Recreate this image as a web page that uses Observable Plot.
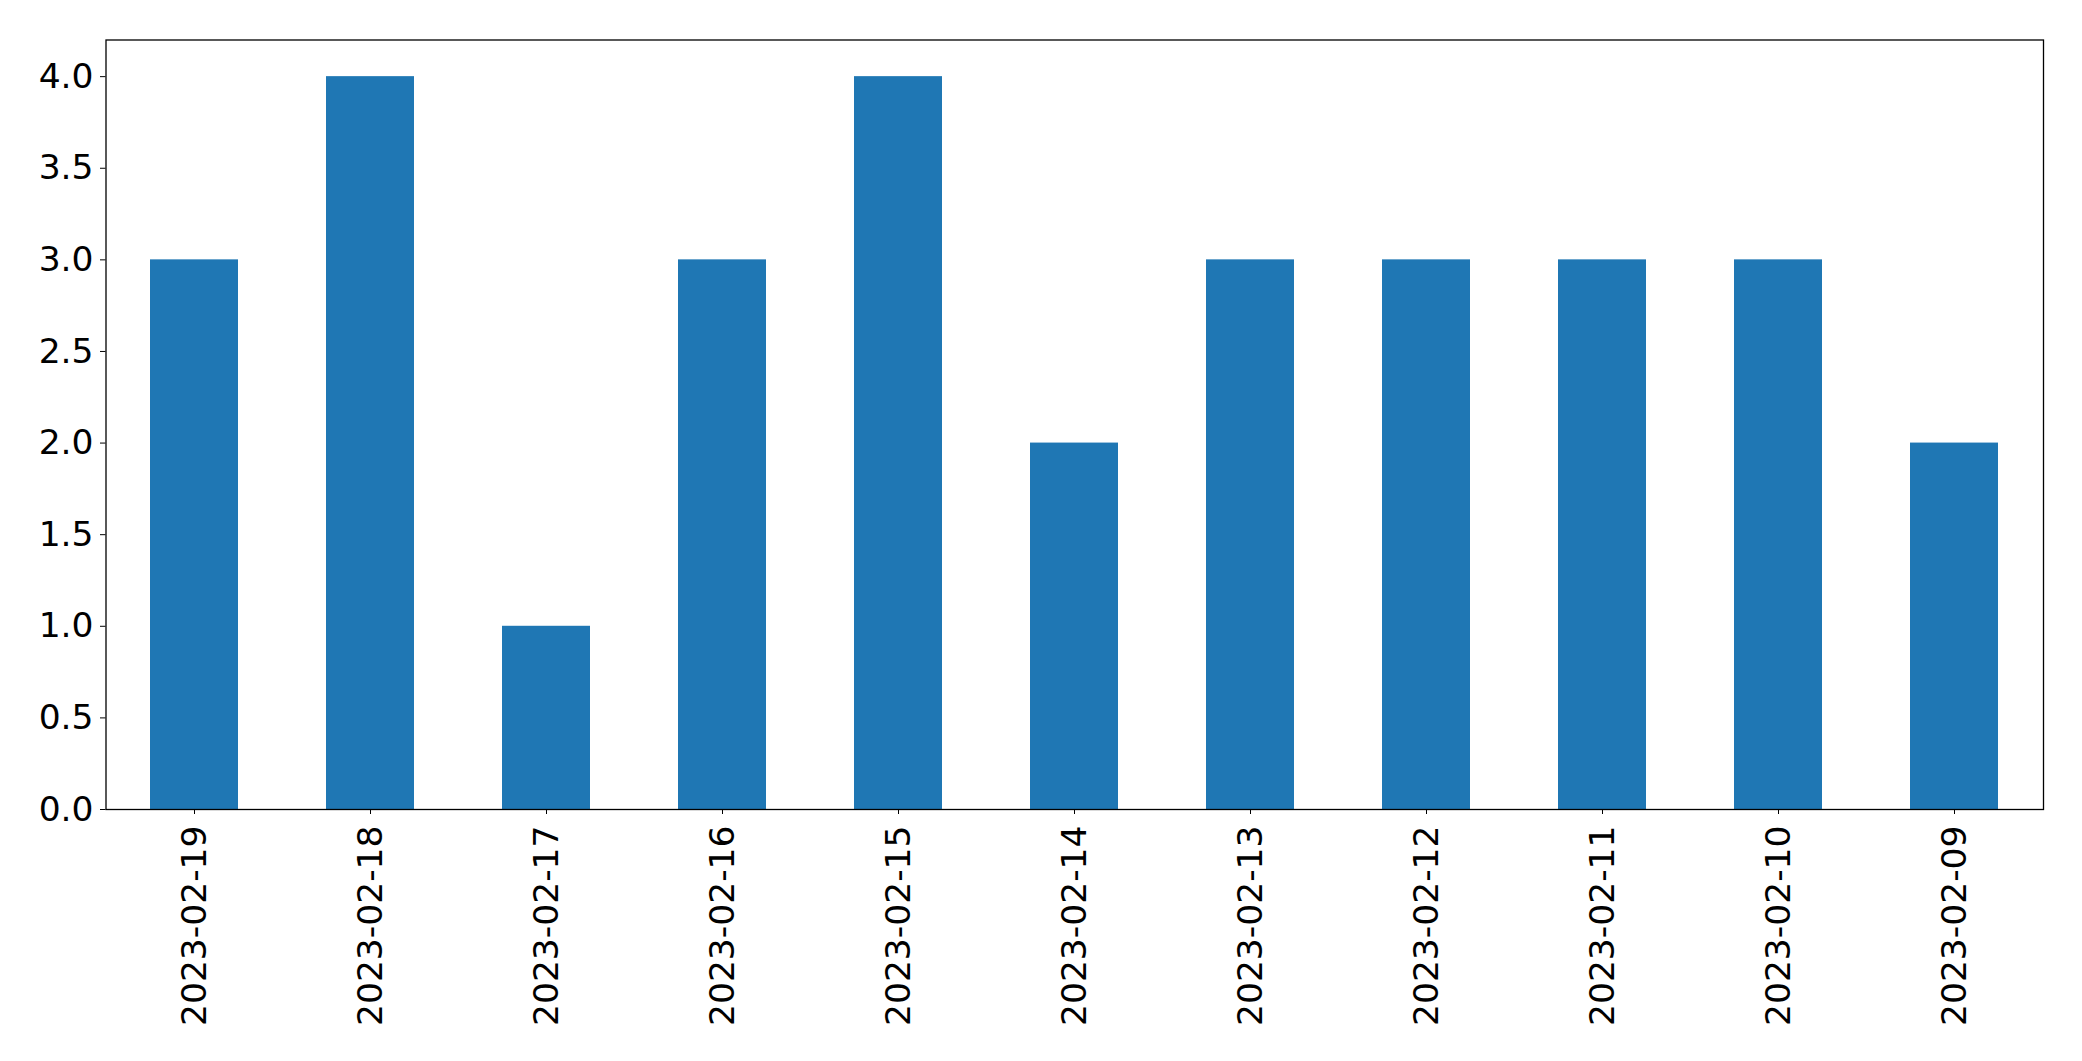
<!DOCTYPE html>
<html>
<head>
<meta charset="utf-8">
<script src="https://cdn.jsdelivr.net/npm/d3@7"></script>
<script src="https://cdn.jsdelivr.net/npm/@observablehq/plot@0.6"></script>
<style>
  html, body { margin: 0; padding: 0; background: #fff; }
  #chart svg { display: block; }
</style>
</head>
<body>
<div id="chart"></div>
<script>
const dates = ["2023-02-19","2023-02-18","2023-02-17","2023-02-16","2023-02-15","2023-02-14","2023-02-13","2023-02-12","2023-02-11","2023-02-10","2023-02-09"];
const counts = [3, 4, 1, 3, 4, 2, 3, 3, 3, 3, 2];
const yTicks = [0, 0.5, 1, 1.5, 2, 2.5, 3, 3.5, 4];

const data = dates.map((d, i) => ({date: d, count: counts[i]}));

const chart = Plot.plot({
  width: 2082,
  height: 1061,
  marginLeft: 105.5,
  marginRight: 39,
  marginTop: 39.5,
  marginBottom: 252,
  style: {fontFamily: "DejaVu Sans", fontSize: "34.5px", color: "#000", background: "#fff"},
  x: {domain: dates, paddingInner: 0.5, paddingOuter: 0.25, label: null},
  y: {domain: [0, 4.2], label: null},
  marks: [
    Plot.barY(data, {x: "date", y: "count", fill: "#1f77b4"}),
    Plot.axisY({ticks: yTicks, tickFormat: d3.format(".1f"), tickSize: 5.5, tickPadding: 7, label: null, stroke: "#000", strokeOpacity: 1, fontSize: 34.5}),
    Plot.axisX({tickRotate: -90, tickSize: 5, tickPadding: 11, label: null, stroke: "#000", strokeOpacity: 1, fontSize: 34.5}),
    Plot.frame({stroke: "#000", strokeWidth: 1.3})
  ]
});
document.getElementById("chart").appendChild(chart);
</script>
</body>
</html>
